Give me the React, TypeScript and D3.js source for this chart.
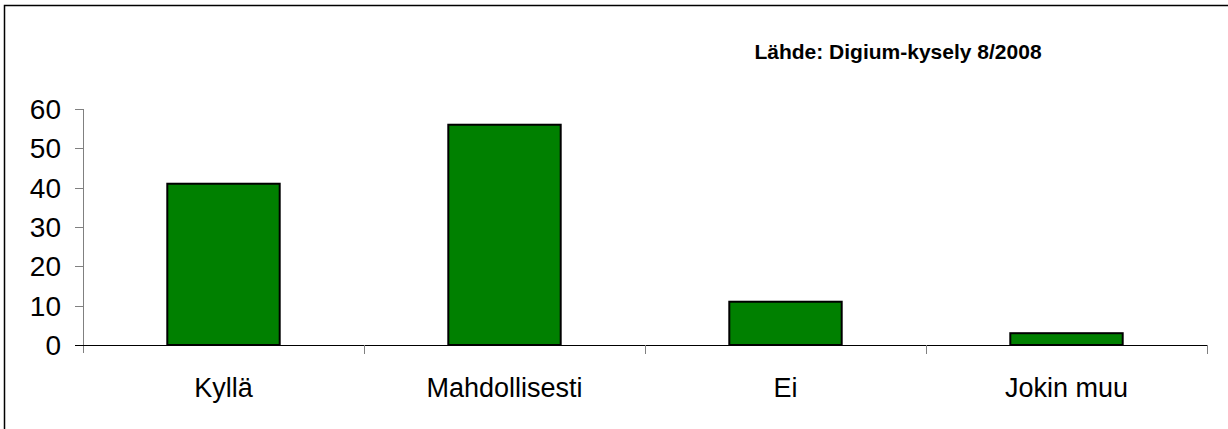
import React, { useEffect, useRef } from 'react';
import * as d3 from 'd3';

const categories = ['Kyllä', 'Mahdollisesti', 'Ei', 'Jokin muu'];
const values = [41, 56, 11, 3];
const yTicks = [0, 10, 20, 30, 40, 50, 60];

const App = () => {
  const svgRef = useRef<SVGSVGElement>(null);

  useEffect(() => {
    const svg = d3.select(svgRef.current);
    svg.selectAll('*').remove();

    const width = 1228;
    const height = 429;
    const left = 83;
    const right = 1207;
    const top = 109;
    const bottom = 345;
    const font = 'Liberation Sans, Arial, sans-serif';

    // outer frame
    svg.append('rect')
      .attr('x', 4.5)
      .attr('y', 5.5)
      .attr('width', width)
      .attr('height', height)
      .attr('fill', 'white')
      .attr('stroke', '#000')
      .attr('stroke-width', 1.5);

    const x = d3.scaleBand().domain(categories).range([left, right]).paddingInner(0).paddingOuter(0);
    const y = d3.scaleLinear().domain([0, 60]).range([bottom, top]);
    const barW = x.bandwidth() * 0.4;

    // y axis
    svg.append('line')
      .attr('x1', left + 0.5).attr('x2', left + 0.5)
      .attr('y1', y(60)).attr('y2', bottom + 8)
      .attr('stroke', '#808080');
    svg.selectAll('.ytick')
      .data(yTicks)
      .enter()
      .append('line')
      .attr('x1', left - 8).attr('x2', left)
      .attr('y1', d => Math.round(y(d)) + 0.5)
      .attr('y2', d => Math.round(y(d)) + 0.5)
      .attr('stroke', '#808080');
    svg.selectAll('.ylab')
      .data(yTicks)
      .enter()
      .append('text')
      .attr('x', 61)
      .attr('y', d => y(d))
      .attr('dy', '0.36em')
      .attr('text-anchor', 'end')
      .attr('font-family', font)
      .attr('font-size', 28)
      .text(d => d);

    // bars
    svg.selectAll('.bar')
      .data(values)
      .enter()
      .append('rect')
      .attr('x', (d, i) => x(categories[i])! + (x.bandwidth() - barW) / 2)
      .attr('y', d => y(d))
      .attr('width', barW)
      .attr('height', d => bottom - y(d))
      .attr('fill', '#008000')
      .attr('stroke', '#000')
      .attr('stroke-width', 2);

    // x axis
    svg.append('line')
      .attr('x1', left - 8).attr('x2', right)
      .attr('y1', bottom + 0.5).attr('y2', bottom + 0.5)
      .attr('stroke', '#000');
    const xEdges = categories.map(c => x(c)! + x.bandwidth());
    svg.selectAll('.xtick')
      .data(xEdges)
      .enter()
      .append('line')
      .attr('x1', d => Math.round(d) + 0.5).attr('x2', d => Math.round(d) + 0.5)
      .attr('y1', bottom).attr('y2', bottom + 9)
      .attr('stroke', '#808080');
    svg.selectAll('.xlab')
      .data(categories)
      .enter()
      .append('text')
      .attr('x', d => x(d)! + x.bandwidth() / 2)
      .attr('y', 397)
      .attr('text-anchor', 'middle')
      .attr('font-family', font)
      .attr('font-size', 27)
      .text(d => d);

    svg.append('text')
      .attr('x', 898)
      .attr('y', 59)
      .attr('text-anchor', 'middle')
      .attr('font-family', font)
      .attr('font-weight', 'bold')
      .attr('font-size', 21)
      .text('Lähde: Digium-kysely 8/2008');
  }, []);

  return (
    <svg
      ref={svgRef}
      width={1228}
      height={429}
      style={{ position: 'absolute', left: 0, top: 0, background: 'white' }}
    />
  );
};

export default App;
